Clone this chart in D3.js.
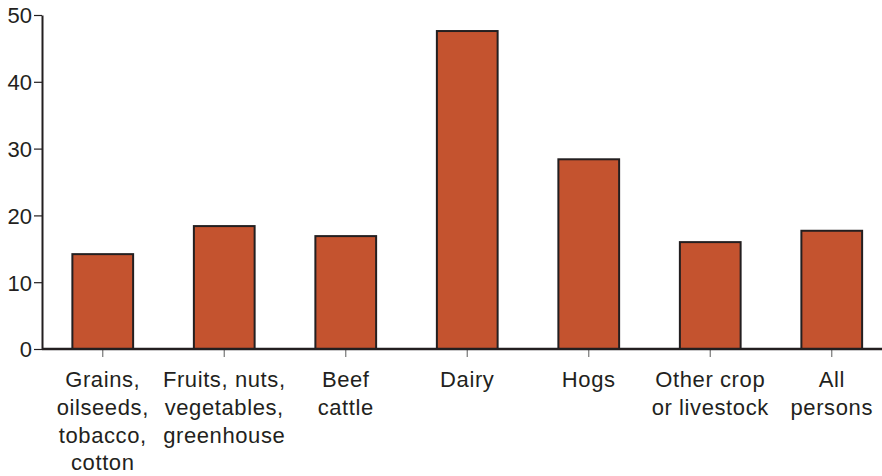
<!DOCTYPE html>
<html><head><meta charset="utf-8">
<script src="https://cdn.jsdelivr.net/npm/d3@7"></script>
<style>body{margin:0;background:#fff}svg{display:block}</style>
</head><body><svg id="c" width="882" height="476"></svg>
<script>
const categories = [
  ["Grains,","oilseeds,","tobacco,","cotton"],
  ["Fruits, nuts,","vegetables,","greenhouse"],
  ["Beef","cattle"],
  ["Dairy"],
  ["Hogs"],
  ["Other crop","or livestock"],
  ["All","persons"]
];
const values = [14.2, 18.4, 16.9, 47.6, 28.4, 16.0, 17.7];
const yTicks = [0,10,20,30,40,50];

const svg = d3.select("#c");
const x = d3.scaleBand().domain(d3.range(categories.length)).range([42, 892.5]).paddingInner(0.5).paddingOuter(0.25);
const y = d3.scaleLinear().domain([0,50]).range([349, 15]);
const ink = "#231f20";
const font = "Liberation Sans, Arial, Helvetica, sans-serif";

svg.selectAll("rect.bar").data(values).join("rect")
  .attr("x", (d,i)=>x(i)).attr("width", x.bandwidth())
  .attr("y", d=>y(d)).attr("height", d=>y(0)-y(d))
  .attr("fill","#c4532f").attr("stroke",ink).attr("stroke-width",2);

const ya = svg.append("g").attr("transform","translate(42,0)")
  .call(d3.axisLeft(y).tickValues(yTicks).tickSize(8).tickSizeOuter(0).tickPadding(2));
ya.select(".domain").attr("stroke",ink).attr("stroke-width",2);
ya.selectAll(".tick line").attr("stroke",ink).attr("stroke-width",1.2);
ya.selectAll(".tick text").attr("fill",ink).style("font-family",font).style("font-size","22px").attr("dy","0.36em");

const xa = svg.append("g").attr("transform","translate(0,349)")
  .call(d3.axisBottom(x).tickSize(8).tickSizeOuter(0).tickFormat(""));
xa.select(".domain").remove();
xa.selectAll(".tick line").attr("stroke","#777").attr("stroke-width",1.2);
svg.append("line").attr("x1",42).attr("x2",882).attr("y1",349).attr("y2",349).attr("stroke",ink).attr("stroke-width",2.5);

const lab = svg.append("g");
categories.forEach((lines,i)=>{
  const cx = x(i)+x.bandwidth()/2;
  const t = lab.append("text").attr("text-anchor","middle")
    .attr("x", cx).attr("y", 387)
    .attr("fill",ink).style("font-family",font).style("font-size","22px").style("letter-spacing","0.6px");
  lines.forEach((l,j)=>t.append("tspan").attr("x", cx).attr("dy", j===0?0:27.8).text(l));
});
</script></body></html>
